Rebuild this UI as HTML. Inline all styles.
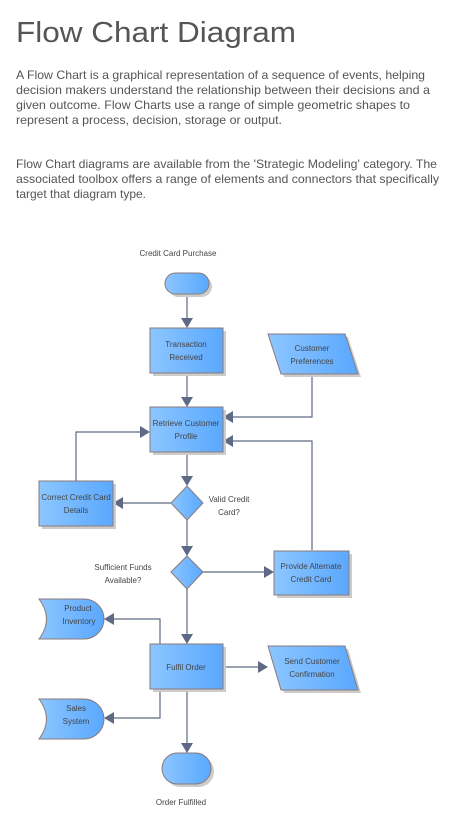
<!DOCTYPE html>
<html><head><meta charset="utf-8"><style>
html,body{margin:0;padding:0;background:#fff;}
svg{display:block;}
.h{font-family:"Liberation Sans",sans-serif;fill:#555;}
.p{font-family:"Liberation Sans",sans-serif;font-size:12px;fill:#555;}
.d{font-family:"Liberation Sans",sans-serif;font-size:8px;fill:#444;text-anchor:middle;}
.s{stroke:#8a7a7a;stroke-width:1;fill:url(#g);}
.sh{fill:#ccc;}
.l{stroke:#5e6a85;stroke-width:1.2;fill:none;}
.a{fill:#5e6a85;}
</style></head><body>
<svg width="466" height="817" viewBox="0 0 466 817" xmlns="http://www.w3.org/2000/svg">
<defs><linearGradient id="g" x1="0" x2="1" y1="0" y2="0"><stop offset="0" stop-color="#8cc6ff"/><stop offset="1" stop-color="#5aa8ff"/></linearGradient></defs>
<text class="h" x="16" y="42" font-size="29" textLength="280" lengthAdjust="spacingAndGlyphs">Flow Chart Diagram</text>
<text class="p" x="16" y="79" textLength="409" lengthAdjust="spacingAndGlyphs">A Flow Chart is a graphical representation of a sequence of events, helping</text>
<text class="p" x="16" y="94" textLength="414" lengthAdjust="spacingAndGlyphs">decision makers understand the relationship between their decisions and a</text>
<text class="p" x="16" y="109" textLength="394" lengthAdjust="spacingAndGlyphs">given outcome.  Flow Charts use a range of simple geometric shapes to</text>
<text class="p" x="16" y="124" textLength="266" lengthAdjust="spacingAndGlyphs">represent a process, decision, storage or output.</text>
<text class="p" x="16" y="168" textLength="421" lengthAdjust="spacingAndGlyphs">Flow Chart diagrams are available from the 'Strategic Modeling' category.  The</text>
<text class="p" x="16" y="183" textLength="423" lengthAdjust="spacingAndGlyphs">associated toolbox offers a range of elements and connectors that specifically</text>
<text class="p" x="16" y="198" textLength="130" lengthAdjust="spacingAndGlyphs">target that diagram type.</text>

<!-- connectors -->
<path class="l" d="M187 294V318 M187 373V397 M312 374V417H233 M312 550V441H233 M76 481V432H140 M187 452V476 M172 503H123 M187 520V546 M203 572H264 M187 589V634 M160 644V619H114 M223 667H258 M160 689V718H114 M187 689V743"/>
<g class="a">
<path d="M181 318h12l-6 10z"/><path d="M181 397h12l-6 10z"/>
<path d="M233 411v12l-10-6z"/><path d="M233 435v12l-10-6z"/>
<path d="M140 426v12l10-6z"/><path d="M181 476h12l-6 10z"/>
<path d="M123 497v12l-10-6z"/><path d="M181 546h12l-6 10z"/>
<path d="M264 566v12l10-6z"/><path d="M181 634h12l-6 10z"/>
<path d="M114 613v12l-10-6z"/><path d="M258 661v12l10-6z"/>
<path d="M114 712v12l-10-6z"/><path d="M181 743h12l-6 10z"/>
</g>

<!-- shapes with shadows -->
<g class="sh">
<rect x="168" y="276" width="44" height="21" rx="10.5"/>
<rect x="153" y="331" width="73" height="45"/>
<path d="M271 337H348L361 377H284Z"/>
<rect x="153" y="410" width="73" height="45"/>
<rect x="42" y="484" width="74" height="45"/>
<rect x="277" y="554" width="75" height="44"/>
<rect x="153" y="647" width="73" height="45"/>
<path d="M271 649H348L361 693H284Z"/>
<rect x="165" y="756" width="49" height="31" rx="15.5"/>
</g>
<rect class="s" x="165" y="273" width="44" height="21" rx="10.5"/>
<rect class="s" x="150" y="328" width="73" height="45"/>
<path class="s" d="M268 334H345L358 374H281Z"/>
<rect class="s" x="150" y="407" width="73" height="45"/>
<rect class="s" x="39" y="481" width="74" height="45"/>
<path class="s" d="M187 486L203 503L187 520L171 503Z"/>
<path class="s" d="M187 556L203 572L187 589L171 572Z"/>
<rect class="s" x="274" y="551" width="75" height="44"/>
<path class="s" d="M39 599H84A20 20 0 0 1 84 639H39Q54 619 39 599Z"/>
<rect class="s" x="150" y="644" width="73" height="45"/>
<path class="s" d="M268 646H345L358 690H281Z"/>
<path class="s" d="M39 699H84A20 20 0 0 1 84 739H39Q54 719 39 699Z"/>
<rect class="s" x="162" y="753" width="49" height="31" rx="15.5"/>

<!-- labels -->
<text class="d" x="178" y="256">Credit Card Purchase</text>
<text class="d" x="186" y="347">Transaction</text><text class="d" x="186" y="360">Received</text>
<text class="d" x="312" y="351">Customer</text><text class="d" x="312" y="364">Preferences</text>
<text class="d" x="186" y="426">Retrieve Customer</text><text class="d" x="186" y="439">Profile</text>
<text class="d" x="76" y="500">Correct Credit Card</text><text class="d" x="76" y="513">Details</text>
<text class="d" x="229" y="502">Valid Credit</text><text class="d" x="229" y="515">Card?</text>
<text class="d" x="123" y="570">Sufficient Funds</text><text class="d" x="123" y="583">Available?</text>
<text class="d" x="311" y="569">Provide Alternate</text><text class="d" x="311" y="582">Credit Card</text>
<text class="d" x="78" y="611">Product</text><text class="d" x="79" y="624">Inventory</text>
<text class="d" x="186" y="670">Fulfil Order</text>
<text class="d" x="312" y="664">Send Customer</text><text class="d" x="312" y="677">Confirmation</text>
<text class="d" x="76" y="711">Sales</text><text class="d" x="76" y="724">System</text>
<text class="d" x="181" y="805">Order Fulfilled</text>
</svg>
</body></html>
